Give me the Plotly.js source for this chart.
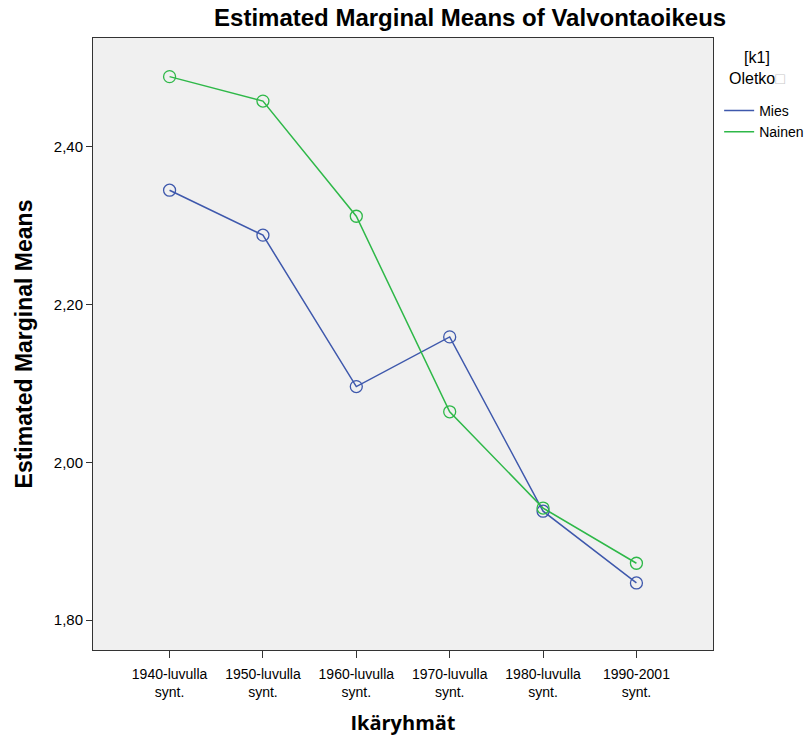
<!DOCTYPE html>
<html><head><meta charset="utf-8">
<script src="https://cdn.plot.ly/plotly-3.0.1.min.js"></script>
<style>body{margin:0;background:#fff}#chart{width:805px;height:740px}</style>
</head><body><div id="chart"></div>
<script>
const categories = ["1940-luvulla<br>synt.", "1950-luvulla<br>synt.", "1960-luvulla<br>synt.", "1970-luvulla<br>synt.", "1980-luvulla<br>synt.", "1990-2001<br>synt."];
const mies = [2.345, 2.288, 2.096, 2.159, 1.938, 1.847];
const nainen = [2.489, 2.458, 2.312, 2.064, 1.942, 1.872];
const yTickVals = [1.8, 2.0, 2.2, 2.4];
const yTickText = ["1,80", "2,00", "2,20", "2,40"];
const seriesNames = ["Mies", "Nainen"];
const legendTitle = "[k1]<br>Oletko<span style='color:#c8c8c8'>□</span>";
const colors = ["#3E58AC", "#2EB848"];

const idx = categories.map((_, i) => i);
const series = [mies, nainen];
const traces = [];
series.forEach((vals, k) => {
  traces.push({x: idx, y: vals, type: "scatter", mode: "lines", name: seriesNames[k],
    line: {color: colors[k], width: 1.5}, hoverinfo: "skip"});
});
series.forEach((vals, k) => {
  traces.push({x: idx, y: vals, type: "scatter", mode: "markers", showlegend: false,
    marker: {symbol: "circle-open", size: 12, color: colors[k], line: {width: 1.3, color: colors[k]}}});
});

const layout = {
  width: 805, height: 740,
  margin: {l: 93, r: 92, t: 38, b: 90, autoexpand: false},
  paper_bgcolor: "#ffffff", plot_bgcolor: "#F0F0F0",
  font: {family: "Liberation Sans, Arial, sans-serif", color: "#000", size: 14},
  title: {text: "<b>Estimated Marginal Means of Valvontaoikeus</b>", font: {size: 24, family: "Liberation Sans, Arial, sans-serif"},
    x: 0.584, xanchor: "center", y: 0.976, yanchor: "middle"},
  xaxis: {
    range: [-0.82, 5.82], tickmode: "array", tickvals: idx, ticktext: categories,
    showgrid: false, zeroline: false, showline: true, linecolor: "#333", linewidth: 1, mirror: true,
    ticks: "outside", ticklen: 7, tickcolor: "#333", ticklabelstandoff: 4,
    tickfont: {size: 14},
    title: {text: "<b>Ikäryhmät</b>", font: {size: 20, family: "Open Sans, DejaVu Sans, sans-serif"}, standoff: 16}
  },
  yaxis: {
    range: [1.762, 2.538], tickmode: "array", tickvals: yTickVals, ticktext: yTickText,
    showgrid: false, zeroline: false, showline: true, linecolor: "#333", linewidth: 1, mirror: true,
    ticks: "outside", ticklen: 6, tickcolor: "#333",
    tickfont: {size: 15},
    title: {text: "<b>Estimated Marginal Means</b>", font: {size: 23}, standoff: 14}
  },
  showlegend: true,
  legend: {
    x: 1.0099, xanchor: "left", y: 0.907, yanchor: "top",
    bgcolor: "rgba(0,0,0,0)", borderwidth: 0,
    font: {size: 14}, itemwidth: 30, tracegroupgap: 0
  },
  annotations: [{
    text: legendTitle, xref: "paper", yref: "paper", x: 1.071, y: 0.985, xanchor: "center", yanchor: "top",
    showarrow: false, font: {size: 16}, align: "center"
  }]
};
Plotly.newPlot("chart", traces, layout, {displayModeBar: false, staticPlot: true});
</script></body></html>
